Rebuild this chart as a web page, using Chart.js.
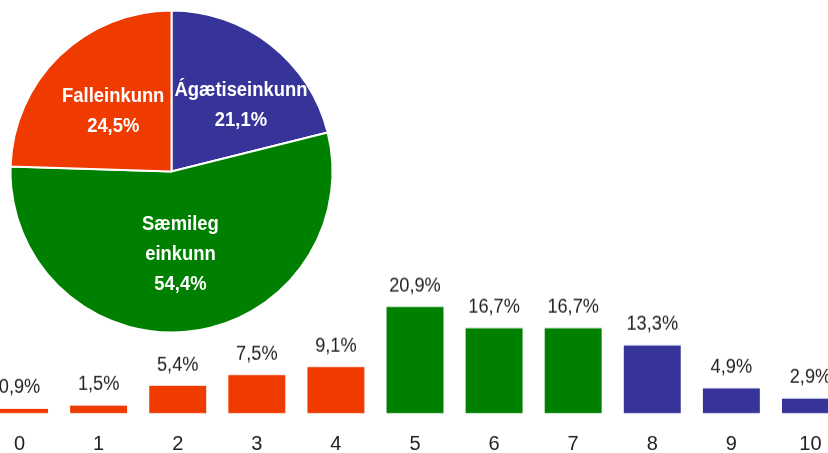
<!DOCTYPE html>
<html>
<head>
<meta charset="utf-8">
<script src="https://cdn.jsdelivr.net/npm/chart.js@4/dist/chart.umd.min.js"></script>
<style>
  html, body { margin: 0; padding: 0; background: #fff; }
  #wrap { position: relative; width: 828px; height: 453px; overflow: hidden; }
  /* súluritið er breiðara en glugginn svo yztu súlurnar skerast eins og í frumritinu */
  #barBox { position: absolute; left: -20px; top: 0; width: 870px; height: 474.5px; }
  #pieBox { position: absolute; left: 0; top: 0; width: 400px; height: 343px; }
</style>
</head>
<body>
<div id="wrap">
  <div id="barBox"><canvas id="barChart"></canvas></div>
  <div id="pieBox"><canvas id="pieChart"></canvas></div>
</div>
<script>
// einkunnir 0-10 og hlutfall nemenda
const grades = ['0', '1', '2', '3', '4', '5', '6', '7', '8', '9', '10'];
const gradeShares = [0.9, 1.5, 5.4, 7.5, 9.1, 20.9, 16.7, 16.7, 13.3, 4.9, 2.9];
const gradeGroup = [2, 2, 2, 2, 2, 1, 1, 1, 0, 0, 0];

// flokkar í kökuritinu
const groupNames = [['Ágætiseinkunn'], ['Sæmileg', 'einkunn'], ['Falleinkunn']];
const groupShares = [21.1, 54.4, 24.5];

const groupColors = ['#363498', '#008000', '#ef3a00'];
const fontFamily = '"Liberation Sans", Arial, sans-serif';

function pct(v) {
    return v.toFixed(1).replace('.', ',') + '%';
}

// þjappaður texti (frumritið notar mjórra letur)
function narrowText(ctx, text, x, y, squeeze) {
    ctx.save();
    ctx.translate(x, y);
    ctx.scale(squeeze, 1);
    ctx.fillText(text, 0, 0);
    ctx.restore();
}

// gildi fyrir ofan súlurnar
const barValueLabels = {
    id: 'barValueLabels',
    afterDatasetsDraw(chart) {
        const ctx = chart.ctx;
        const meta = chart.getDatasetMeta(0);
        ctx.save();
        ctx.font = '20px ' + fontFamily;
        ctx.fillStyle = '#222';
        ctx.textAlign = 'center';
        ctx.textBaseline = 'middle';
        meta.data.forEach((bar, i) => {
            narrowText(ctx, pct(gradeShares[i]), bar.x, bar.y - 21, 0.91);
        });
        ctx.restore();
    }
};

// texti inni í sneiðunum
const sliceLabels = {
    id: 'sliceLabels',
    afterDatasetsDraw(chart) {
        const ctx = chart.ctx;
        const meta = chart.getDatasetMeta(0);
        const lineH = 30;
        const squeeze = 0.92;
        ctx.save();
        ctx.font = 'bold 20px ' + fontFamily;
        ctx.fillStyle = '#fff';
        ctx.textAlign = 'center';
        ctx.textBaseline = 'middle';
        meta.data.forEach((arc, i) => {
            const lines = groupNames[i].concat([pct(groupShares[i])]);
            const w = Math.max(...lines.map(t => ctx.measureText(t).width)) * squeeze;
            const mid = (arc.startAngle + arc.endAngle) / 2;
            const r = arc.outerRadius * 0.52;
            let x = arc.x + Math.cos(mid) * r;
            let y = arc.y + Math.sin(mid) * r;
            // halda textanum frá lóðréttu skilunum efst
            if (y < arc.y) {
                if (x > arc.x) x = Math.max(x, arc.x + 3 + w / 2);
                else x = Math.min(x, arc.x - 3 - w / 2);
            }
            const top = y - (lines.length - 1) * lineH / 2;
            lines.forEach((t, j) => narrowText(ctx, t, x, top + j * lineH, squeeze));
        });
        ctx.restore();
    }
};

new Chart(document.getElementById('barChart'), {
    type: 'bar',
    data: {
        labels: grades,
        datasets: [{
            data: gradeShares,
            backgroundColor: gradeGroup.map(g => groupColors[g]),
            barPercentage: 0.72,
            categoryPercentage: 1
        }]
    },
    options: {
        responsive: true,
        maintainAspectRatio: false,
        animation: false,
        layout: { padding: { left: 0, right: 0, top: 5.5, bottom: 0 } },
        plugins: { legend: { display: false }, tooltip: { enabled: false } },
        scales: {
            x: {
                grid: { display: false, drawTicks: false },
                border: { display: false },
                ticks: { color: '#222', padding: 19, font: { family: fontFamily, size: 20 } }
            },
            y: { display: false, min: 0, max: 80 }
        }
    },
    plugins: [barValueLabels]
});

new Chart(document.getElementById('pieChart'), {
    type: 'pie',
    data: {
        labels: groupNames,
        datasets: [{
            data: groupShares,
            backgroundColor: groupColors,
            borderColor: '#fff',
            borderWidth: 2
        }]
    },
    options: {
        responsive: true,
        maintainAspectRatio: false,
        animation: false,
        layout: { padding: { left: 9.5, top: 9.5, bottom: 9.5, right: 66.5 } },
        plugins: { legend: { display: false }, tooltip: { enabled: false } }
    },
    plugins: [sliceLabels]
});
</script>
</body>
</html>
